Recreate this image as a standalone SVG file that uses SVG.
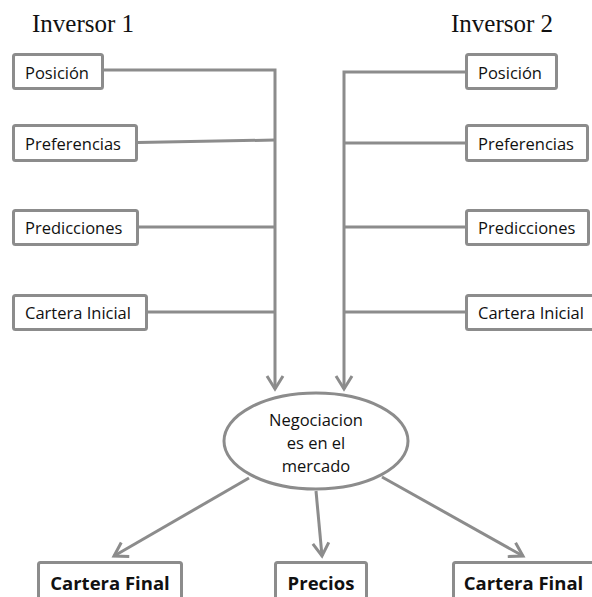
<svg xmlns="http://www.w3.org/2000/svg" width="592" height="597" viewBox="0 0 592 597">
<style>
.box{fill:#fff;stroke:#8c8c8c;stroke-width:3;}
.ln{fill:none;stroke:#8c8c8c;stroke-width:3;}
.t{font-family:"Open Sans","Noto Sans",sans-serif;font-size:16.5px;fill:#111;}
.tc{font-family:"Open Sans","Noto Sans",sans-serif;font-size:16.5px;fill:#111;text-anchor:middle;}
.tb{font-family:"Open Sans","Noto Sans",sans-serif;font-size:18.5px;font-weight:bold;fill:#111;text-anchor:middle;}
.h{font-family:"Liberation Serif","Times New Roman",serif;font-size:25px;fill:#111;}
</style>
<defs>
<marker id="arr" markerUnits="userSpaceOnUse" orient="auto" markerWidth="20" markerHeight="20" refX="0" refY="0" viewBox="-15 -10 20 20" overflow="visible">
<path d="M-13,-8 L0,0 L-13,8" fill="none" stroke="#8c8c8c" stroke-width="3"/>
</marker>
</defs>
<rect width="592" height="597" fill="#fff"/>
<text class="h" x="32" y="32">Inversor 1</text>
<text class="h" x="451" y="32">Inversor 2</text>
<g id="connectors">
<path class="ln" d="M104,70 H275 V389" marker-end="url(#arr)"/>
<path class="ln" d="M138,142.5 L275,140"/>
<path class="ln" d="M139,227 H275"/>
<path class="ln" d="M148,312 H275"/>
<path class="ln" d="M465,72 H344 V389" marker-end="url(#arr)"/>
<path class="ln" d="M465,143 H344"/>
<path class="ln" d="M465,227 H344"/>
<path class="ln" d="M465,312 H344"/>
<path class="ln" d="M249,478 L114,556" marker-end="url(#arr)"/>
<path class="ln" d="M316,491 L322,556" marker-end="url(#arr)"/>
<path class="ln" d="M382,477 L523,556" marker-end="url(#arr)"/>
</g>
<g id="l-posicion"><rect class="box" x="13.5" y="54.5" width="89" height="34" rx="2"/><text class="t" x="25" y="79">Posición</text></g>
<g id="l-preferencias"><rect class="box" x="13.5" y="125.5" width="123" height="35" rx="2"/><text class="t" x="25" y="150">Preferencias</text></g>
<g id="l-predicciones"><rect class="box" x="13.5" y="210.5" width="124" height="34" rx="2"/><text class="t" x="25" y="234">Predicciones</text></g>
<g id="l-cartera"><rect class="box" x="13.5" y="295.5" width="133" height="34" rx="2"/><text class="t" x="25" y="319">Cartera Inicial</text></g>
<g id="r-posicion"><rect class="box" x="466.5" y="54.5" width="90" height="34" rx="2"/><text class="t" x="478" y="79">Posición</text></g>
<g id="r-preferencias"><rect class="box" x="466.5" y="125.5" width="121" height="35" rx="2"/><text class="t" x="478" y="150">Preferencias</text></g>
<g id="r-predicciones"><rect class="box" x="466.5" y="210.5" width="122" height="34" rx="2"/><text class="t" x="478" y="234">Predicciones</text></g>
<g id="r-cartera"><rect class="box" x="466.5" y="295.5" width="140" height="34" rx="2"/><text class="t" x="478" y="319">Cartera Inicial</text></g>
<g id="mercado"><ellipse class="box" cx="316" cy="441" rx="92" ry="48"/>
<text class="tc" x="316" y="426">Negociacion</text>
<text class="tc" x="316" y="449">es en el</text>
<text class="tc" x="316" y="472">mercado</text></g>
<g id="b-cartera1"><rect class="box" x="38.5" y="562.5" width="143" height="50" rx="2"/><text class="tb" x="110" y="590">Cartera Final</text></g>
<g id="b-precios"><rect class="box" x="275.5" y="562.5" width="91" height="50" rx="2"/><text class="tb" x="321" y="590">Precios</text></g>
<g id="b-cartera2"><rect class="box" x="453.5" y="562.5" width="150" height="50" rx="2"/><text class="tb" x="523.5" y="590">Cartera Final</text></g>
</svg>
